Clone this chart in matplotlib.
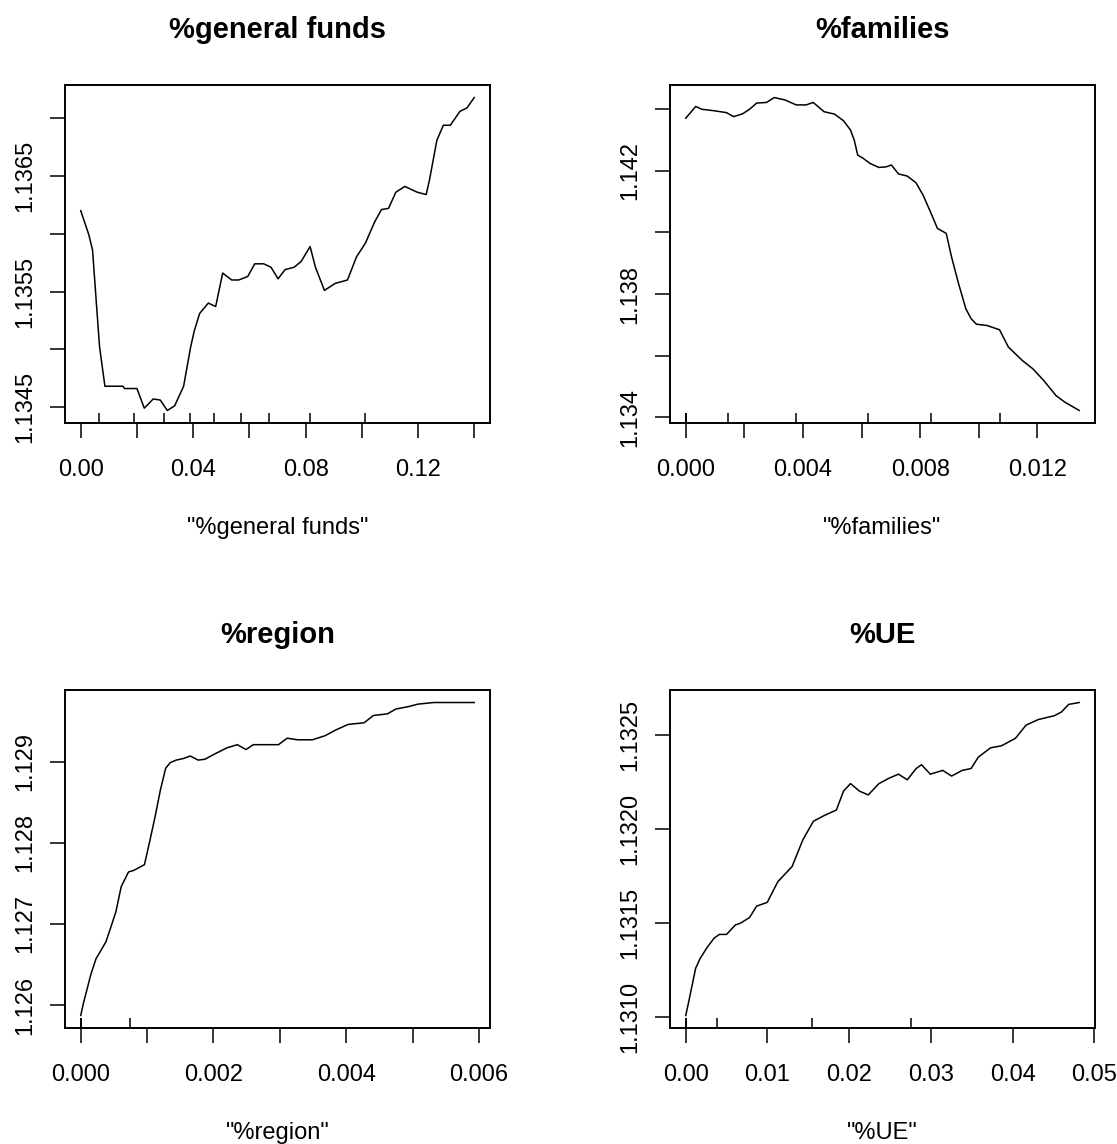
import numpy as np
import matplotlib
matplotlib.use("Agg")
import matplotlib.pyplot as plt
import matplotlib.transforms as mtransforms

plt.rcParams['font.family'] = ['Liberation Sans', 'DejaVu Sans']

# ---------------- data ----------------
gf_x = [0.0, 0.0029, 0.0042, 0.0055, 0.0067, 0.0086, 0.015, 0.0156, 0.020, 0.0226, 0.0258, 0.0283,
        0.0308, 0.0334, 0.0366, 0.0391, 0.0404, 0.0423, 0.0454, 0.048, 0.0505, 0.0537, 0.0562, 0.0594,
        0.0619, 0.0651, 0.0677, 0.0702, 0.0727, 0.0759, 0.0784, 0.0816, 0.0835, 0.0867, 0.0905, 0.0949,
        0.0981, 0.1013, 0.1045, 0.1070, 0.1095, 0.1121, 0.1153, 0.1197, 0.1229, 0.1241, 0.1267, 0.1290,
        0.1315, 0.1349, 0.1374, 0.1400]
gf_y = [1.13620, 1.13599, 1.13586, 1.13542, 1.13502, 1.13468, 1.13468, 1.13466, 1.13466, 1.13449,
        1.13457, 1.13456, 1.13447, 1.13451, 1.13468, 1.13502, 1.13516, 1.13531, 1.13540, 1.13537,
        1.13566, 1.13560, 1.13560, 1.13563, 1.13574, 1.13574, 1.13571, 1.13561, 1.13569, 1.13571,
        1.13576, 1.13589, 1.13571, 1.13551, 1.13557, 1.13560, 1.13580, 1.13592, 1.13610, 1.13621,
        1.13622, 1.13636, 1.13641, 1.13636, 1.13634, 1.13647, 1.13681, 1.13694, 1.13694, 1.13706,
        1.13709, 1.13718]
gf_rug = [0.0065, 0.0188, 0.0297, 0.0389, 0.0473, 0.0570, 0.0669, 0.0817, 0.1013]

fam_x = [0.0, 0.000145, 0.00034, 0.00054, 0.00097, 0.00139, 0.00163, 0.00194, 0.00218, 0.00242,
         0.00276, 0.00302, 0.00339, 0.00377, 0.00411, 0.00435, 0.00472, 0.00508, 0.00538, 0.00562,
         0.00575, 0.00587, 0.00605, 0.00629, 0.00659, 0.00684, 0.00702, 0.00726, 0.00756, 0.00786,
         0.00810, 0.00835, 0.00859, 0.00889, 0.00907, 0.00931, 0.00956, 0.00974, 0.00992, 0.01028,
         0.01071, 0.01101, 0.01149, 0.01185, 0.01222, 0.01264, 0.01294, 0.01343]
fam_y = [1.14371, 1.14387, 1.14409, 1.14400, 1.14395, 1.14389, 1.14376, 1.14385, 1.14400, 1.14420,
         1.14422, 1.14438, 1.14430, 1.14414, 1.14414, 1.14422, 1.14392, 1.14384, 1.14363, 1.14333,
         1.14300, 1.14251, 1.14241, 1.14224, 1.14211, 1.14213, 1.14219, 1.14190, 1.14183, 1.14161,
         1.14121, 1.14067, 1.14013, 1.13997, 1.13921, 1.13834, 1.13752, 1.13720, 1.13702, 1.13698,
         1.13684, 1.13628, 1.13584, 1.13557, 1.13519, 1.13470, 1.13449, 1.13422]
fam_rug = [0.0, 0.0, 0.0, 0.0, 0.00145, 0.00375, 0.00623, 0.00837, 0.01072]

reg_x = [0.0, 0.000043, 0.000097, 0.00015, 0.00023, 0.00031, 0.00038, 0.00045, 0.00053, 0.00061,
         0.00072, 0.00080, 0.00096, 0.00104, 0.00112, 0.00120, 0.00128, 0.00135, 0.00144, 0.00155,
         0.00165, 0.00177, 0.00187, 0.00203, 0.00220, 0.00236, 0.00249, 0.00260, 0.00298, 0.00311,
         0.00327, 0.00349, 0.00368, 0.00384, 0.00403, 0.00427, 0.00441, 0.00462, 0.00475, 0.00494,
         0.00508, 0.00532, 0.00593]
reg_y = [1.12587, 1.12603, 1.12620, 1.12637, 1.12657, 1.12668, 1.12678, 1.12695, 1.12715, 1.12746,
         1.12764, 1.12766, 1.12773, 1.12802, 1.12832, 1.12865, 1.12892, 1.12899, 1.12902, 1.12904,
         1.12907, 1.12902, 1.12903, 1.12910, 1.12917, 1.12921, 1.12915, 1.12921, 1.12921, 1.12929,
         1.12927, 1.12927, 1.12932, 1.12939, 1.12946, 1.12948, 1.12957, 1.12959, 1.12965, 1.12968,
         1.12971, 1.12973, 1.12973]
reg_rug = [0.0, 0.0, 0.0, 0.0, 0.0, 0.0, 0.0, 0.0, 0.00074]

ue_x = [0.0, 0.00035, 0.00078, 0.00121, 0.00173, 0.00260, 0.00347, 0.00412, 0.00499, 0.00607,
        0.00672, 0.00781, 0.00867, 0.00997, 0.01127, 0.01301, 0.01431, 0.01561, 0.01691, 0.01843,
        0.01930, 0.02016, 0.02125, 0.02233, 0.02363, 0.02494, 0.02602, 0.02710, 0.02819, 0.02884,
        0.02992, 0.03144, 0.03252, 0.03382, 0.03491, 0.03578, 0.03730, 0.03860, 0.04033, 0.04163,
        0.04315, 0.04510, 0.04597, 0.04684, 0.04814]
ue_y = [1.13101, 1.13108, 1.13117, 1.13126, 1.13131, 1.13137, 1.13142, 1.13144, 1.13144, 1.13149,
        1.13150, 1.13153, 1.13159, 1.13161, 1.13172, 1.13180, 1.13194, 1.13204, 1.13207, 1.13210,
        1.13220, 1.13224, 1.13220, 1.13218, 1.13224, 1.13227, 1.13229, 1.13226, 1.13232, 1.13234,
        1.13229, 1.13231, 1.13228, 1.13231, 1.13232, 1.13238, 1.13243, 1.13244, 1.13248, 1.13255,
        1.13258, 1.13260, 1.13262, 1.13266, 1.13267]
ue_rug = [0.0, 0.0, 0.0, 0.0, 0.0, 0.0, 0.0038, 0.0155, 0.0275]

titles = ["%general funds", "%families", "%region", "%UE"]
xlabels = ['"%general funds"', '"%families"', '"%region"', '"%UE"']

gf_xticks = [0.0, 0.02, 0.04, 0.06, 0.08, 0.10, 0.12, 0.14]
gf_xticklabels = ["0.00", "", "0.04", "", "0.08", "", "0.12", ""]
gf_yticks = [1.1345, 1.1350, 1.1355, 1.1360, 1.1365, 1.1370]
gf_yticklabels = ["1.1345", "", "1.1355", "", "1.1365", ""]

fam_xticks = [0.0, 0.002, 0.004, 0.006, 0.008, 0.010, 0.012]
fam_xticklabels = ["0.000", "", "0.004", "", "0.008", "", "0.012"]
fam_yticks = [1.134, 1.136, 1.138, 1.140, 1.142, 1.144]
fam_yticklabels = ["1.134", "", "1.138", "", "1.142", ""]

reg_xticks = [0.0, 0.001, 0.002, 0.003, 0.004, 0.005, 0.006]
reg_xticklabels = ["0.000", "", "0.002", "", "0.004", "", "0.006"]
reg_yticks = [1.126, 1.127, 1.128, 1.129]
reg_yticklabels = ["1.126", "1.127", "1.128", "1.129"]

ue_xticks = [0.0, 0.01, 0.02, 0.03, 0.04, 0.05]
ue_xticklabels = ["0.00", "0.01", "0.02", "0.03", "0.04", "0.05"]
ue_yticks = [1.1310, 1.1315, 1.1320, 1.1325]
ue_yticklabels = ["1.1310", "1.1315", "1.1320", "1.1325"]

panels = [
    (gf_x, gf_y, gf_rug, gf_xticks, gf_xticklabels, gf_yticks, gf_yticklabels),
    (fam_x, fam_y, fam_rug, fam_xticks, fam_xticklabels, fam_yticks, fam_yticklabels),
    (reg_x, reg_y, reg_rug, reg_xticks, reg_xticklabels, reg_yticks, reg_yticklabels),
    (ue_x, ue_y, ue_rug, ue_xticks, ue_xticklabels, ue_yticks, ue_yticklabels),
]

# ---------------- layout ----------------
W, H = 1117, 1144
fig = plt.figure(figsize=(W / 100, H / 100), dpi=100)
boxes = [(65, 85, 490, 423), (670, 85, 1095, 423), (65, 690, 490, 1028), (670, 690, 1095, 1028)]

FS = 17
for i, (px, py, rug, xt, xtl, yt, ytl) in enumerate(panels):
    l, t, r, b = boxes[i]
    ax = fig.add_axes([l / W, (H - b) / H, (r - l) / W, (b - t) / H])
    ax.plot(px, py, color='black', lw=1.1)
    # R-style 4% range extension
    xmin, xmax = min(px), max(px)
    ymin, ymax = min(py), max(py)
    dx, dy = (xmax - xmin) * 0.04, (ymax - ymin) * 0.04
    ax.set_xlim(xmin - dx, xmax + dx)
    ax.set_ylim(ymin - dy, ymax + dy)
    # rug (deciles)
    trans = mtransforms.blended_transform_factory(ax.transData, ax.transAxes)
    ax.vlines(rug, 0, 0.03, transform=trans, color='black', lw=1.1)
    ax.set_xticks(xt)
    ax.set_xticklabels(xtl, fontsize=FS)
    ax.set_yticks(yt)
    ax.set_yticklabels(ytl, fontsize=FS, rotation=90, va='center')
    ax.tick_params(axis='x', length=11, width=1.1, pad=15, direction='out')
    ax.tick_params(axis='y', length=11, width=1.1, pad=9.5, direction='out')
    for s in ax.spines.values():
        s.set_linewidth(1.4)
    ax.set_title(titles[i], fontsize=21, fontweight='bold', pad=33.6)
    ax.set_xlabel(xlabels[i], fontsize=FS)
    ax.xaxis.set_label_coords(0.5, -94 / (b - t))

fig.savefig("out.png", dpi=100)
